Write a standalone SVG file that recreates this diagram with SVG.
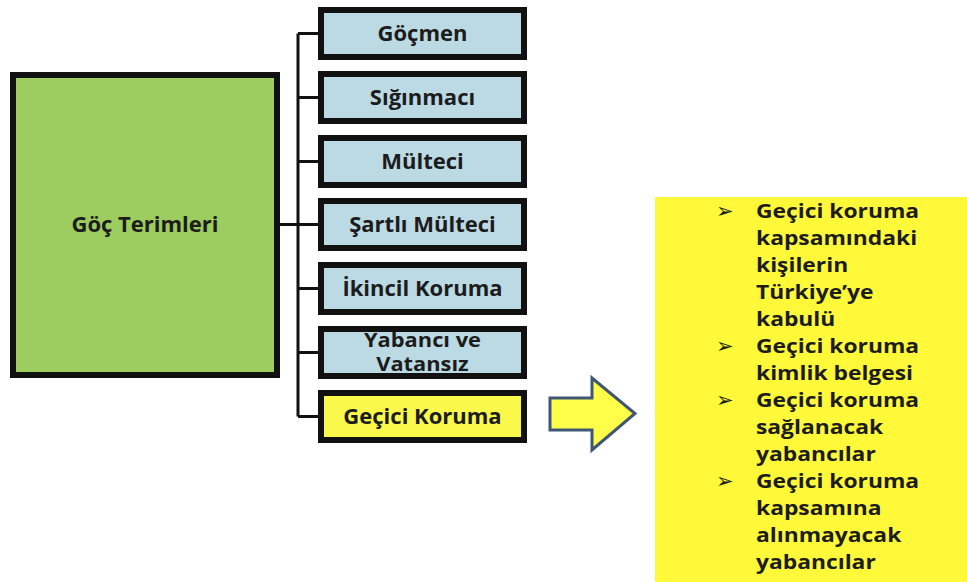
<svg xmlns="http://www.w3.org/2000/svg" width="967" height="582" viewBox="0 0 967 582">
<style>
  .box { stroke: #111; stroke-width: 6; }
  .blue { fill: #BBDAE4; }
  .yel { fill: #FAF84A; }
  .lbl { font-family: "Open Sans", "Liberation Sans", sans-serif; font-weight: bold; font-size: 22px; fill: #1c1c1c; text-anchor: middle; }
  .two { font-size: 19.5px; }
  .conn { stroke: #111; stroke-width: 3; fill: none; }
  .pan { font-family: "Open Sans", "Liberation Sans", sans-serif; font-weight: bold; font-size: 19.5px; fill: #1c1c1c; }
  .bul { font-family: "DejaVu Sans", sans-serif; font-weight: bold; font-size: 21px; fill: #1c1c1c; }
</style>
<rect width="967" height="582" fill="#ffffff"/>

<g id="connectors">
  <line class="conn" x1="298" y1="33.5" x2="298" y2="416.5"/>
  <line class="conn" x1="278" y1="224.5" x2="298" y2="224.5"/>
  <line class="conn" x1="298" y1="33.5" x2="320" y2="33.5"/>
  <line class="conn" x1="298" y1="97.5" x2="320" y2="97.5"/>
  <line class="conn" x1="298" y1="161.5" x2="320" y2="161.5"/>
  <line class="conn" x1="298" y1="224.5" x2="320" y2="224.5"/>
  <line class="conn" x1="298" y1="288.5" x2="320" y2="288.5"/>
  <line class="conn" x1="298" y1="352.5" x2="320" y2="352.5"/>
  <line class="conn" x1="298" y1="416.5" x2="320" y2="416.5"/>
</g>

<g id="goc-terimleri">
  <rect class="box" x="13" y="75" width="264" height="300" fill="#9DCD5E"/>
  <text class="lbl" x="145" y="232">Göç Terimleri</text>
</g>

<g id="gocmen">
  <rect class="box blue" x="321" y="10" width="203" height="47"/>
  <text class="lbl" x="422.5" y="41">Göçmen</text>
</g>
<g id="siginmaci">
  <rect class="box blue" x="321" y="74" width="203" height="47"/>
  <text class="lbl" x="422.5" y="105">Sığınmacı</text>
</g>
<g id="multeci">
  <rect class="box blue" x="321" y="138" width="203" height="47"/>
  <text class="lbl" x="422.5" y="169">Mülteci</text>
</g>
<g id="sartli-multeci">
  <rect class="box blue" x="321" y="201" width="203" height="47"/>
  <text class="lbl" x="422.5" y="232">Şartlı Mülteci</text>
</g>
<g id="ikincil-koruma">
  <rect class="box blue" x="321" y="265" width="203" height="47"/>
  <text class="lbl" x="422.5" y="296">İkincil Koruma</text>
</g>
<g id="yabanci-vatansiz">
  <rect class="box blue" x="321" y="329" width="203" height="47"/>
  <g transform="translate(422.5 0) scale(1.12 1)">
    <text class="lbl two" x="0" y="347">Yabancı ve</text>
    <text class="lbl two" x="0" y="371">Vatansız</text>
  </g>
</g>
<g id="gecici-koruma">
  <rect class="box yel" x="321" y="393" width="203" height="47"/>
  <text class="lbl" x="422.5" y="424">Geçici Koruma</text>
</g>

<g id="arrow">
  <polygon points="550,398 592,398 592,378 635,413.5 592,450 592,430 550,430" fill="#FFFF4A" stroke="#3F5677" stroke-width="3" stroke-linejoin="miter"/>
</g>

<g id="panel">
  <rect x="655" y="197" width="312" height="385" fill="#FFF93A"/>
  <text class="bul" x="716" y="218">➢</text>
  <text class="bul" x="716" y="353">➢</text>
  <text class="bul" x="716" y="407">➢</text>
  <text class="bul" x="716" y="488">➢</text>
  <g transform="translate(756 0) scale(1.17 1)">
    <text class="pan" x="0" y="218">Geçici koruma</text>
    <text class="pan" x="0" y="245">kapsamındaki</text>
    <text class="pan" x="0" y="272">kişilerin</text>
    <text class="pan" x="0" y="299">Türkiye’ye</text>
    <text class="pan" x="0" y="326">kabulü</text>
    <text class="pan" x="0" y="353">Geçici koruma</text>
    <text class="pan" x="0" y="380">kimlik belgesi</text>
    <text class="pan" x="0" y="407">Geçici koruma</text>
    <text class="pan" x="0" y="434">sağlanacak</text>
    <text class="pan" x="0" y="461">yabancılar</text>
    <text class="pan" x="0" y="488">Geçici koruma</text>
    <text class="pan" x="0" y="515">kapsamına</text>
    <text class="pan" x="0" y="542">alınmayacak</text>
    <text class="pan" x="0" y="569">yabancılar</text>
  </g>
</g>
</svg>
